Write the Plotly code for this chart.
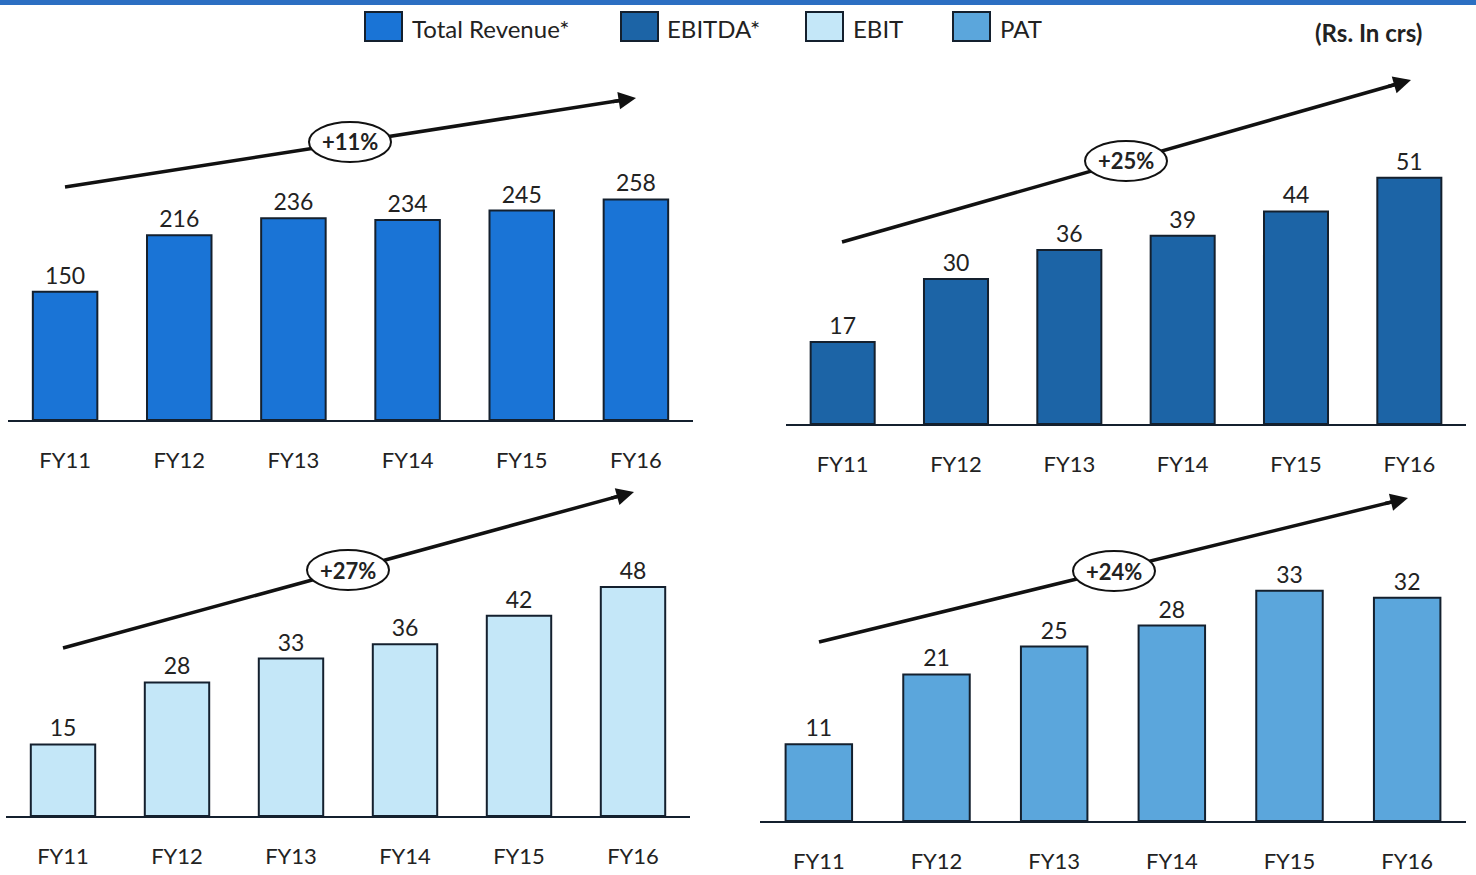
import plotly.graph_objects as go

# ---- data ----
years = ["FY11", "FY12", "FY13", "FY14", "FY15", "FY16"]
total_revenue = [150, 216, 236, 234, 245, 258]
ebitda = [17, 30, 36, 39, 44, 51]
ebit = [15, 28, 33, 36, 42, 48]
pat = [11, 21, 25, 28, 33, 32]
growth_labels = ["+11%", "+25%", "+27%", "+24%"]
series_names = ["Total Revenue*", "EBITDA*", "EBIT", "PAT"]

# ---- styling ----
W, H = 1476, 875
FONT = "Lato"
colors = ["#1a74d6", "#1c64a6", "#c4e7f8", "#5ba6dc"]
outline = "#14202e"


def px(x):
    return x / W


def py(y):
    return 1 - y / H


# panel geometry in pixels: x-left, x-right, baseline, scale (px/unit), y max
panels = [
    dict(x0=8, x1=693, base=420, scale=0.855, ymax=300, vals=total_revenue),
    dict(x0=786, x1=1466, base=424, scale=4.83, ymax=60, vals=ebitda),
    dict(x0=6, x1=690, base=816, scale=4.77, ymax=55, vals=ebit),
    dict(x0=760, x1=1466, base=821, scale=6.98, ymax=40, vals=pat),
]

fig = go.Figure()
layout_axes = {}
for i, p in enumerate(panels):
    n = "" if i == 0 else str(i + 1)
    top = p["base"] - p["scale"] * p["ymax"]
    fig.add_trace(go.Bar(
        x=years, y=p["vals"], xaxis="x" + n, yaxis="y" + n,
        width=0.565,
        marker=dict(color=colors[i], line=dict(color=outline, width=2)),
        text=[str(v) for v in p["vals"]], textposition="outside",
        textfont=dict(family=FONT, size=23, color="#222"),
        cliponaxis=False, showlegend=False, name=series_names[i],
    ))
    layout_axes["xaxis" + n] = dict(
        domain=[px(p["x0"]), px(p["x1"])], anchor="y" + n,
        range=[-0.5, 5.5], showline=True, linecolor=outline, linewidth=2,
        showgrid=False, zeroline=False, ticks="", ticklabelstandoff=20,
        tickfont=dict(family=FONT, size=22, color="#222"),
    )
    layout_axes["yaxis" + n] = dict(
        domain=[py(p["base"]), py(top)], anchor="x" + n,
        range=[0, p["ymax"]], visible=False, showgrid=False, zeroline=False,
    )

fig.update_layout(**layout_axes)

shapes = []
annotations = []

# top blue band
shapes.append(dict(type="rect", xref="paper", yref="paper",
                   x0=0, x1=1, y0=py(5), y1=1,
                   fillcolor="#2c6fc2", line=dict(width=0), layer="above"))

# legend swatches and labels
legend_items = [(365, 410), (621, 665), (806, 851), (953, 998)]
for (bx, tx), name, c in zip(legend_items, series_names, colors):
    shapes.append(dict(type="rect", xref="paper", yref="paper",
                       x0=px(bx), x1=px(bx + 37), y0=py(41), y1=py(12),
                       fillcolor=c, line=dict(color=outline, width=2)))
    annotations.append(dict(xref="paper", yref="paper", x=px(tx), y=py(28),
                            text=name, showarrow=False, xanchor="left", yanchor="middle",
                            font=dict(family=FONT, size=24, color="#222")))

annotations.append(dict(xref="paper", yref="paper", x=px(1368), y=py(33),
                        text="<b>(Rs. In crs)</b>", showarrow=False,
                        xanchor="center", yanchor="middle",
                        font=dict(family=FONT, size=24, color="#222")))

# growth arrows with CAGR ellipses
arrows = [
    ((65, 187), (636, 98), (350, 142)),
    ((842, 242), (1411, 80), (1126, 161)),
    ((63, 648), (634, 492), (348, 570)),
    ((819, 642), (1408, 498), (1114, 571)),
]
for (tail, head, ctr), label in zip(arrows, growth_labels):
    dx, dy = head[0] - tail[0], head[1] - tail[1]
    ln = (dx * dx + dy * dy) ** 0.5
    ux, uy = dx / ln, dy / ln
    stop = (head[0] - ux * 10, head[1] - uy * 10)
    shapes.append(dict(type="line", xref="paper", yref="paper",
                       x0=px(tail[0]), y0=py(tail[1]), x1=px(stop[0]), y1=py(stop[1]),
                       line=dict(color="#111", width=3.5), layer="above"))
    shapes.append(dict(type="circle", xref="paper", yref="paper",
                       x0=px(ctr[0] - 41), x1=px(ctr[0] + 41),
                       y0=py(ctr[1] + 20), y1=py(ctr[1] - 20),
                       fillcolor="white", line=dict(color="#111", width=2), layer="above"))
    annotations.append(dict(xref="paper", yref="paper", x=px(ctr[0]), y=py(ctr[1]),
                            text="<b>" + label + "</b>", showarrow=False,
                            xanchor="center", yanchor="middle",
                            font=dict(family=FONT, size=22, color="#222")))
    # arrowhead
    annotations.append(dict(xref="paper", yref="paper", x=px(head[0]), y=py(head[1]),
                            ax=-ux * 25, ay=-uy * 25, axref="pixel", ayref="pixel",
                            text="", showarrow=True, arrowhead=2, arrowsize=1.0,
                            arrowwidth=3.5, arrowcolor="#111"))

fig.update_layout(
    width=W, height=H, margin=dict(l=0, r=0, t=0, b=0),
    paper_bgcolor="white", plot_bgcolor="white",
    shapes=shapes, annotations=annotations, showlegend=False,
    font=dict(family=FONT),
)

fig.write_html("out.html")
